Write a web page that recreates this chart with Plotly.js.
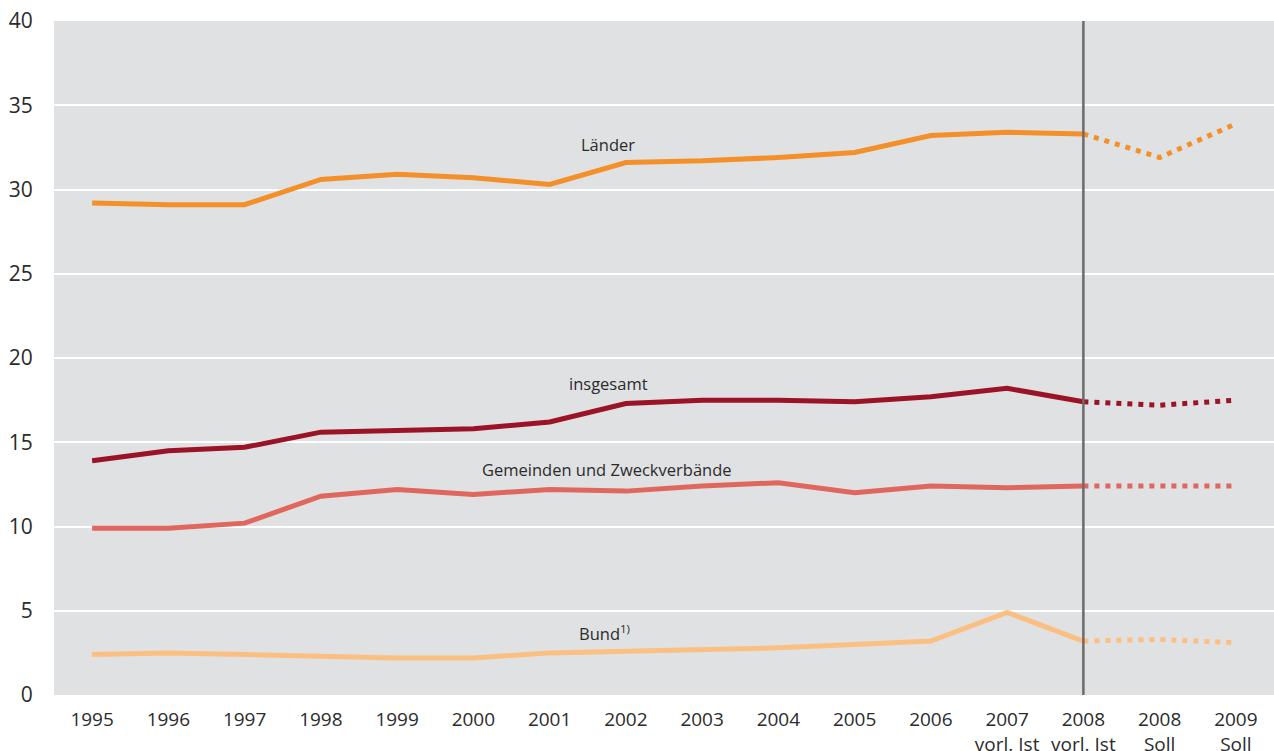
<!DOCTYPE html>
<html>
<head>
<meta charset="utf-8">
<script src="https://cdn.plot.ly/plotly-3.0.1.min.js"></script>
<style>html,body{margin:0;padding:0;background:#fff;}#chart{width:1274px;height:751px;}</style>
</head>
<body>
<div id="chart"></div>
<script>
const categories = ["1995","1996","1997","1998","1999","2000","2001","2002","2003","2004","2005","2006","2007<br>vorl. Ist","2008<br>vorl. Ist","2008<br>Soll","2009<br>Soll"];
const laender    = [29.2,29.1,29.1,30.6,30.9,30.7,30.3,31.6,31.7,31.9,32.2,33.2,33.4,33.3,31.9,33.9];
const insgesamt  = [13.9,14.5,14.7,15.6,15.7,15.8,16.2,17.3,17.5,17.5,17.4,17.7,18.2,17.4,17.2,17.5];
const gemeinden  = [9.9,9.9,10.2,11.8,12.2,11.9,12.2,12.1,12.4,12.6,12.0,12.4,12.3,12.4,12.4,12.4];
const bund       = [2.4,2.5,2.4,2.3,2.2,2.2,2.5,2.6,2.7,2.8,3.0,3.2,4.9,3.2,3.3,3.1];
const seriesNames = ["Länder","insgesamt","Gemeinden und Zweckverbände","Bund<sup>1)</sup>"];
const splitIndex = 13; // last actual value (2008 vorl. Ist)

const colors = ["#f39029","#9b1326","#e0675e","#fcbf82"];
const seriesData = [laender, insgesamt, gemeinden, bund];
const xIdx = categories.map((_, i) => i);

const traces = [];
seriesData.forEach((vals, k) => {
  traces.push({
    x: xIdx.slice(0, splitIndex + 1), y: vals.slice(0, splitIndex + 1),
    type: 'scatter', mode: 'lines', hoverinfo: 'skip',
    line: {color: colors[k], width: 5}
  });
  traces.push({
    x: xIdx.slice(splitIndex), y: vals.slice(splitIndex),
    type: 'scatter', mode: 'lines', hoverinfo: 'skip',
    line: {color: colors[k], width: 5, dash: '5px,6px'}
  });
});

const labelPos = [
  {x: 6.77, y: 32.7},
  {x: 6.77, y: 18.5},
  {x: 6.75, y: 13.4},
  {x: 6.72, y: 3.7}
];
const annotations = seriesNames.map((t, k) => ({
  text: t, x: labelPos[k].x, y: labelPos[k].y, xref: 'x', yref: 'y',
  showarrow: false, font: {family: 'Open Sans, Noto Sans, sans-serif', size: 16.5, color: '#2b2b2b'}
}));

const layout = {
  width: 1274, height: 751,
  margin: {l: 54, r: 0, t: 21, b: 56},
  paper_bgcolor: '#ffffff',
  plot_bgcolor: '#e0e1e3',
  showlegend: false,
  font: {family: 'Open Sans, Noto Sans, sans-serif', color: '#2b2b2b'},
  xaxis: {
    range: [-0.5, 15.5], tickmode: 'array', tickvals: xIdx, ticktext: categories,
    showgrid: false, zeroline: false, showline: false,
    ticks: 'outside', ticklen: 7, tickcolor: 'rgba(0,0,0,0)',
    tickfont: {size: 19, color: '#2b2b2b'}, fixedrange: true
  },
  yaxis: {
    range: [0, 40], tickmode: 'array', tickvals: [0,5,10,15,20,25,30,35,40],
    showgrid: true, gridcolor: '#ffffff', gridwidth: 2,
    zeroline: false, showline: false,
    ticks: 'outside', ticklen: 16, tickcolor: 'rgba(0,0,0,0)',
    tickfont: {size: 21, color: '#2b2b2b'}, fixedrange: true
  },
  shapes: [{
    type: 'line', xref: 'x', yref: 'paper', x0: splitIndex, x1: splitIndex, y0: 0, y1: 1,
    line: {color: '#6b6b6b', width: 2.5}, layer: 'above'
  }],
  annotations: annotations
};

Plotly.newPlot('chart', traces, layout, {displayModeBar: false, staticPlot: true});
</script>
</body>
</html>
